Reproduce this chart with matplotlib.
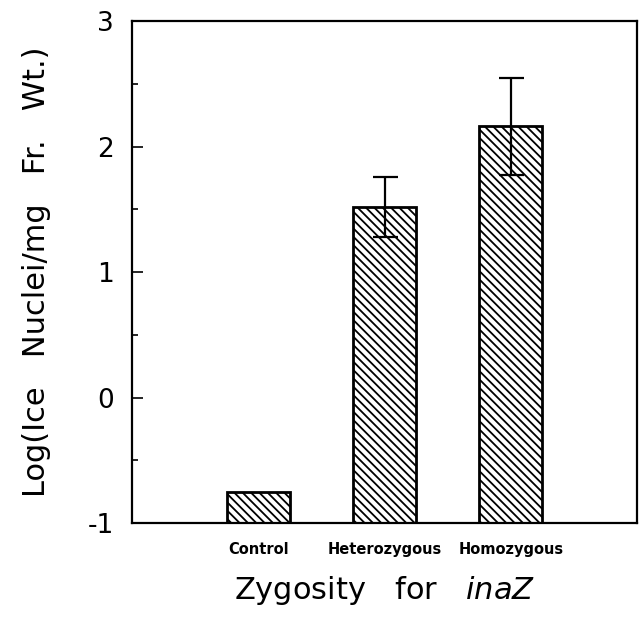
import matplotlib.pyplot as plt

plt.rcParams['hatch.linewidth'] = 1.3
plt.rcParams['axes.unicode_minus'] = False

categorias = ['Control', 'Heterozygous', 'Homozygous']
valores = [-0.75, 1.52, 2.16]
errores = [0.0, 0.24, 0.39]

fig = plt.figure(figsize=(6.39, 6.19), dpi=100)
ax = fig.add_axes([0.2066, 0.1551, 0.7903, 0.8109])

x = list(range(len(categorias)))
# barras desde la base del eje (-1)
alturas = [v - (-1) for v in valores]
ax.bar(x, alturas, bottom=-1, width=0.5, color='white', edgecolor='black',
       linewidth=2, hatch='\\\\\\\\')

# barras de error solo donde existen
for xi, v, e in zip(x, valores, errores):
    if e > 0:
        ax.errorbar(xi, v, yerr=e, fmt='none', ecolor='black', elinewidth=1.6,
                    capsize=9, capthick=1.6)

ax.set_xlim(-1, 3)
ax.set_ylim(-1, 3)
ax.set_yticks([-1, 0, 1, 2, 3])
ax.set_yticks([-0.5, 0.5, 1.5, 2.5], minor=True)
ax.tick_params(axis='y', which='major', direction='in', length=8, width=1.2,
               labelsize=19, pad=13)
ax.tick_params(axis='y', which='minor', direction='in', length=4, width=1.2)
ax.set_xticks(x)
ax.set_xticklabels(categorias, fontsize=10.5, fontweight='bold')
ax.tick_params(axis='x', length=0, pad=14)

for s in ax.spines.values():
    s.set_linewidth(1.6)

ax.set_ylabel('Log(Ice   Nuclei/mg   Fr.   Wt.)', fontsize=22)
ax.yaxis.set_label_coords(-0.16, 0.5)
ax.set_xlabel(r'Zygosity   for   $\it{inaZ}$', fontsize=22, labelpad=12)

fig.savefig('out.png', dpi=100)
